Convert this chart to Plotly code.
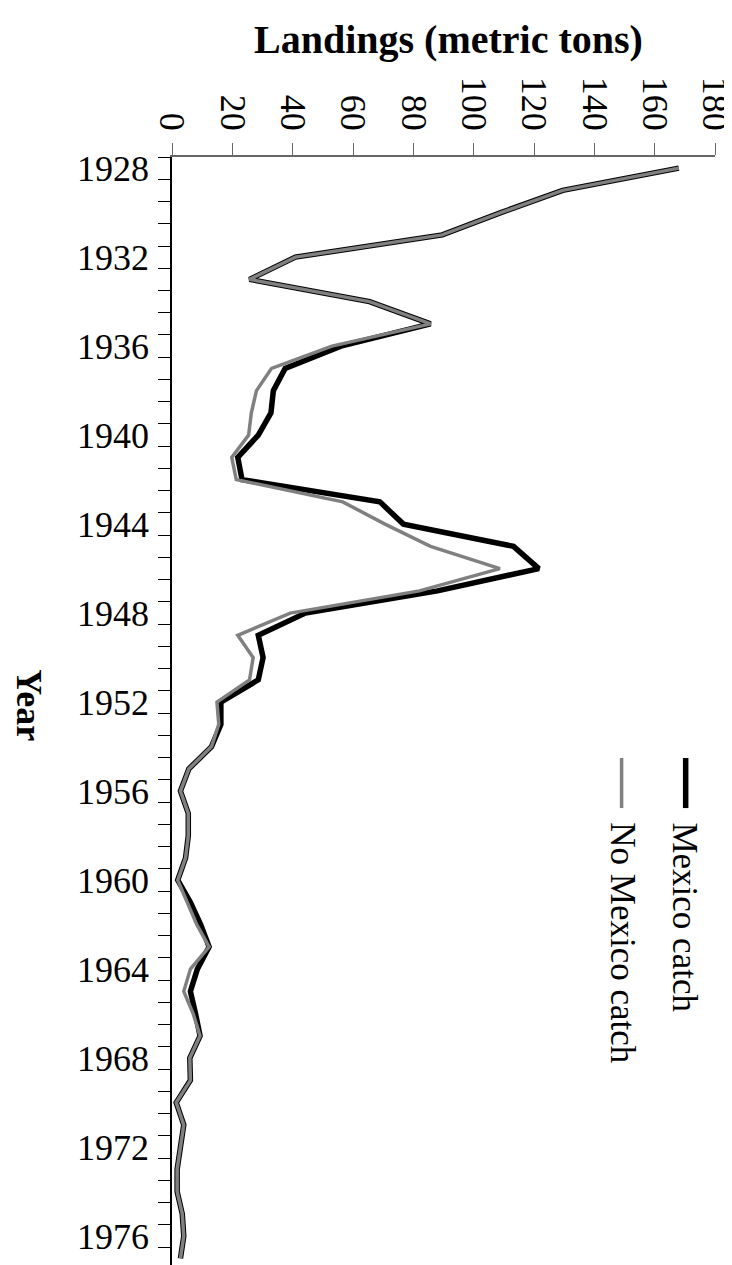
import plotly.graph_objects as go

years = list(range(1928, 1978))

mexico_catch = [168, 129.5, 109, 89.6, 40.9, 25.7, 65.5, 85.7, 56, 37.5,
                33.6, 32.8, 28.6, 21.8, 23.2, 68.9, 76.7, 113.2, 121.6, 88,
                44.2, 28.6, 30.2, 28.6, 16.2, 16.2, 13.1, 5.6, 2.8, 5.4,
                5.4, 4.5, 1.9, 6.1, 9.5, 12.3, 8.4, 6.1, 7.8, 9.3,
                5.9, 6.1, 1.4, 3.9, 2.8, 1.7, 1.7, 3.4, 3.9, 2.8]

no_mexico_catch = [168, 129.5, 109, 89.6, 40.9, 25.7, 65.5, 85.7, 53, 33.0,
                   28.0, 26.3, 25.4, 19.8, 21.3, 56.6, 70.6, 85.7, 108.7, 82,
                   39.2, 21.8, 26.9, 25.7, 14.9, 15.5, 13.1, 5.6, 2.8, 5.4,
                   5.4, 4.5, 1.9, 5.0, 8.2, 12.3, 6.1, 3.9, 7.0, 9.3,
                   5.9, 6.1, 1.4, 3.9, 2.8, 1.7, 1.7, 3.4, 3.9, 2.8]

year_labels = list(range(1928, 1977, 4))
landing_ticks = list(range(0, 181, 20))

FONT = "Liberation Serif"

fig = go.Figure()
fig.add_trace(go.Scatter(x=mexico_catch, y=years, mode="lines", name="Mexico catch",
                         line=dict(color="black", width=5.5)))
fig.add_trace(go.Scatter(x=no_mexico_catch, y=years, mode="lines", name="No Mexico catch",
                         line=dict(color="#808080", width=3.5)))

# page body has an 8px margin, so the figure is 8px smaller than the window
fig.update_layout(
    width=724, height=1257,
    margin=dict(l=164, r=17, t=149, b=0),
    plot_bgcolor="white", paper_bgcolor="white",
    showlegend=False,
    font=dict(family=FONT, size=36, color="black"),
)

fig.update_xaxes(
    side="top", range=[0, 180], tickvals=landing_ticks, automargin=False,
    tickangle=90, ticks="outside", ticklen=12, tickcolor="#666",
    ticklabelstandoff=0, ticklabeloverflow="allow",
    showline=True, linecolor="#666", linewidth=1.5,
    showgrid=False, zeroline=False,
)
fig.update_yaxes(
    range=[1977.3, 1927.5], tickvals=year_labels, automargin=False,
    ticks="outside", ticklen=12, tickcolor="rgba(0,0,0,0)",
    ticklabelstandoff=2,
    minor=dict(tickmode="linear", tick0=1927.5, dtick=1, ticks="outside",
               ticklen=12, tickcolor="black", tickwidth=1),
    showline=True, linecolor="black", linewidth=1.5,
    showgrid=False, zeroline=False,
)

fig.add_annotation(text="<b>Landings (metric tons)</b>", xref="paper", yref="paper",
                   x=0.51, y=1.1056, xanchor="center", yanchor="middle",
                   showarrow=False, font=dict(size=40))

# y title reads top-to-bottom like the original
fig.add_annotation(text="<b>Year</b>", textangle=90, xref="paper", yref="paper",
                   x=-0.265, y=0.505, xanchor="center", yanchor="middle",
                   showarrow=False, font=dict(size=36))

# legend drawn by hand so the text can be rotated
fig.add_shape(type="line", xref="paper", yref="paper", x0=0.946, x1=0.946,
              y0=0.4576, y1=0.4124, line=dict(color="black", width=5.5))
fig.add_shape(type="line", xref="paper", yref="paper", x0=0.828, x1=0.828,
              y0=0.4576, y1=0.4124, line=dict(color="#808080", width=3.5))
fig.add_annotation(text="Mexico catch", textangle=90, xref="paper", yref="paper",
                   x=0.944, y=0.4016, xanchor="center", yanchor="top",
                   showarrow=False, font=dict(size=35))
fig.add_annotation(text="No Mexico catch", textangle=90, xref="paper", yref="paper",
                   x=0.830, y=0.4016, xanchor="center", yanchor="top",
                   showarrow=False, font=dict(size=35))

fig.write_html("out.html")
